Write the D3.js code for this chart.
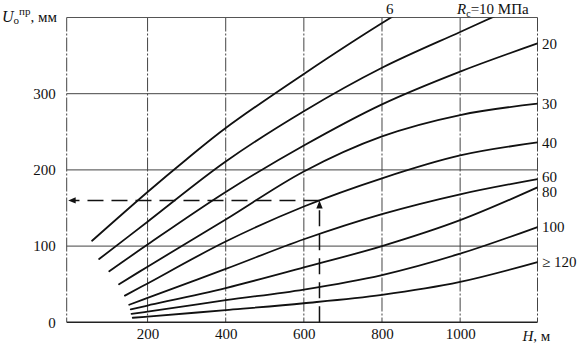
<!DOCTYPE html>
<html>
<head>
<meta charset="utf-8">
<script src="https://cdn.jsdelivr.net/npm/d3@7/dist/d3.min.js"></script>
<style>
  html, body { margin: 0; padding: 0; background: #fff; }
  svg { display: block; }
  text { font-family: "Liberation Serif", "Times New Roman", serif; fill: #111; }
</style>
</head>
<body>
<svg id="chart" width="582" height="346"></svg>
<script>
// Depth H (m) vs. displacement U (mm) for rock strength Rc (MPa)
const hTicks = [200, 400, 600, 800, 1000];
const uTicks = [0, 100, 200, 300];
const seriesLabels = ["6", "10", "20", "30", "40", "60", "80", "100", "≥ 120"];

// [H, U] points along each Rc curve
const rc6   = [[58,107],[200,171],[300,214],[400,255],[600,326],[820,399],[850,408]];
const rc10  = [[76,83],[200,132],[400,211],[600,277],[800,334],[1000,381],[1090,402]];
const rc20  = [[102,67],[200,102],[400,171],[600,232],[800,286],[1000,329],[1198,366]];
const rc30  = [[127,50],[200,73],[400,135],[600,198],[800,244],[1000,272],[1198,287]];
const rc40  = [[142,35],[200,51],[400,106],[600,152],[800,189],[1000,219],[1198,236]];
const rc60  = [[153,23],[200,32],[400,70],[600,109],[800,142],[1000,168],[1198,188]];
const rc80  = [[157,17],[200,22],[400,45],[600,72],[800,100],[1000,134],[1198,177]];
const rc100 = [[159,11],[200,14],[400,29],[600,43],[800,62],[1000,90],[1198,125]];
const rc120 = [[162,6],[200,7.5],[400,16],[600,25],[800,36],[1000,53],[1198,79]];
const curves = [rc6, rc10, rc20, rc30, rc40, rc60, rc80, rc100, rc120];

// worked example: H = 640 m, Rc = 40 MPa -> U = 160 mm
const exampleH = [640];
const exampleU = [160];

const svg = d3.select("#chart");
const x = d3.scaleLinear().domain([-7, 1198]).range([66.7, 537.5]);
const y = d3.scaleLinear().domain([0, 400]).range([322.3, 17.5]);
const [x0, x1] = x.range();
const [yb, yt] = y.range();

svg.append("defs").append("clipPath").attr("id", "plot")
  .append("rect").attr("x", x0).attr("y", yt).attr("width", x1 - x0).attr("height", yb - yt);

// horizontal grid
svg.append("g").selectAll("line").data([100, 200, 300]).join("line")
  .attr("x1", x0).attr("x2", x1)
  .attr("y1", d => y(d)).attr("y2", d => y(d))
  .attr("stroke", "#444").attr("stroke-width", 1);

// vertical grid (dash-dot)
svg.append("g").selectAll("line").data(hTicks).join("line")
  .attr("x1", d => x(d)).attr("x2", d => x(d))
  .attr("y1", yt).attr("y2", yb)
  .attr("stroke", "#444").attr("stroke-width", 1)
  .attr("stroke-dasharray", "14,2,2,2");

// frame
svg.append("line").attr("x1", x0).attr("x2", x1).attr("y1", yt).attr("y2", yt)
  .attr("stroke", "#555").attr("stroke-width", 1);
svg.append("line").attr("x1", x0).attr("x2", x1).attr("y1", yb).attr("y2", yb)
  .attr("stroke", "#222").attr("stroke-width", 1.4);
svg.append("g").selectAll("line").data([x0, x1]).join("line")
  .attr("x1", d => d).attr("x2", d => d).attr("y1", yt).attr("y2", yb)
  .attr("stroke", "#444").attr("stroke-width", 1)
  .attr("stroke-dasharray", "14,2,2,2");

// axes (labels only)
const yAxis = svg.append("g").attr("transform", `translate(${x0},0)`)
  .call(d3.axisLeft(y).tickValues(uTicks).tickSize(0).tickPadding(11).tickFormat(d3.format("d")));
const xAxis = svg.append("g").attr("transform", `translate(0,${yb})`)
  .call(d3.axisBottom(x).tickValues(hTicks).tickSize(0).tickPadding(6).tickFormat(d3.format("d")));
[yAxis, xAxis].forEach(a => {
  a.attr("font-family", null).attr("font-size", null);
  a.select(".domain").remove();
  a.selectAll("text").attr("font-size", 15).attr("fill", "#111");
});

// curves
const line = d3.line().x(d => x(d[0])).y(d => y(d[1])).curve(d3.curveCatmullRom.alpha(0.5));
svg.append("g").attr("clip-path", "url(#plot)")
  .selectAll("path").data(curves).join("path")
  .attr("d", line)
  .attr("fill", "none").attr("stroke", "#111").attr("stroke-width", 1.8)
  .attr("stroke-linecap", "round");

// example read-off lines with arrows
const ex = x(exampleH[0]), ey = y(exampleU[0]);
const dash = "16,8";
svg.append("line").attr("x1", ex).attr("x2", ex).attr("y1", yb).attr("y2", ey + 6)
  .attr("stroke", "#111").attr("stroke-width", 1.5).attr("stroke-dasharray", dash);
svg.append("path").attr("d", `M${ex},${ey} L${ex - 3.2},${ey + 8} L${ex + 3.2},${ey + 8} Z`).attr("fill", "#111");
svg.append("line").attr("x1", ex).attr("x2", x0 + 7).attr("y1", ey).attr("y2", ey)
  .attr("stroke", "#111").attr("stroke-width", 1.5).attr("stroke-dasharray", dash);
svg.append("path").attr("d", `M${x0 + 1.5},${ey} L${x0 + 9},${ey - 3.2} L${x0 + 9},${ey + 3.2} Z`).attr("fill", "#111");

// right-hand curve labels
const labelNudge = { "60": -2.5, "80": 4 };
const rightLabels = svg.append("g");
curves.forEach((c, i) => {
  const last = c[c.length - 1];
  if (last[0] < 1190) return;
  const name = seriesLabels[i];
  rightLabels.append("text")
    .attr("x", x1 + 4.5).attr("y", y(last[1]) + (labelNudge[name] || 0))
    .attr("dy", "0.35em").attr("font-size", 15).text(name);
});

// top labels where the first two curves leave the plot
svg.append("text").attr("x", x(820)).attr("y", 13.5).attr("text-anchor", "middle")
  .attr("font-size", 15).text(seriesLabels[0]);
const rcLabel = svg.append("text").attr("x", 457).attr("y", 13.5).attr("font-size", 15);
rcLabel.append("tspan").attr("font-style", "italic").text("R");
rcLabel.append("tspan").attr("font-size", 10).attr("dy", 3).text("c");
rcLabel.append("tspan").attr("dy", -3).text("=" + seriesLabels[1] + " МПа");

// axis titles
const uTitle = svg.append("text").attr("x", 2).attr("y", 22).attr("font-size", 16);
uTitle.append("tspan").attr("font-style", "italic").text("U");
uTitle.append("tspan").attr("font-size", 11).attr("dy", 2).text("о");
uTitle.append("tspan").attr("font-size", 11).attr("dy", -9).text("пр");
uTitle.append("tspan").attr("font-size", 15).attr("dy", 7).text(", мм");

const hTitle = svg.append("text").attr("x", 522.5).attr("y", 341).attr("font-size", 15);
hTitle.append("tspan").attr("font-style", "italic").text("H");
hTitle.append("tspan").text(", м");
</script>
</body>
</html>
